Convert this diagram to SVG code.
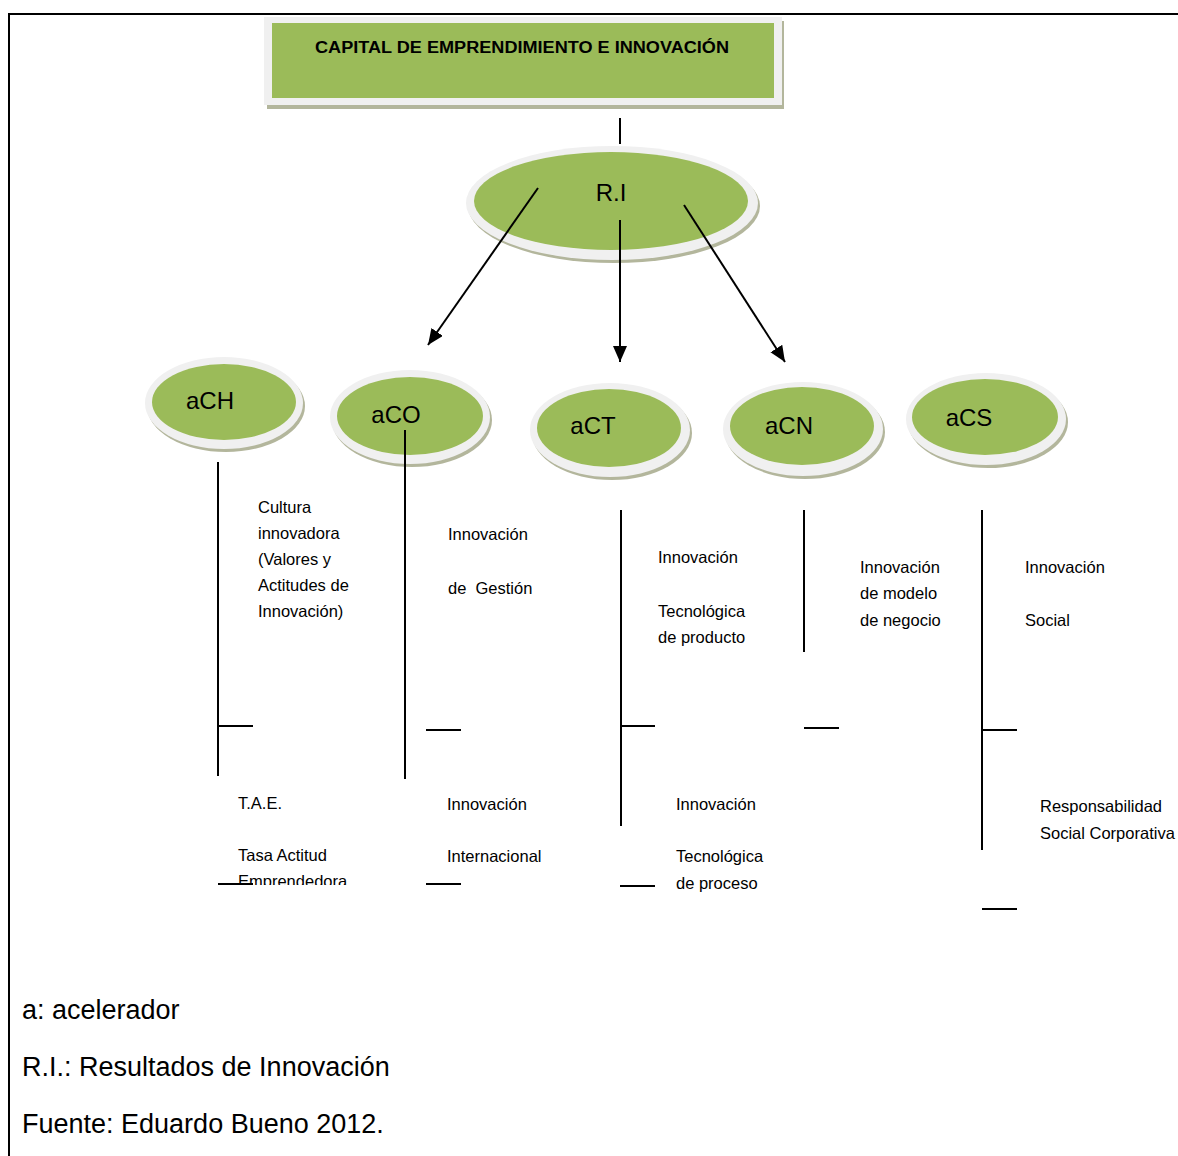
<svg xmlns="http://www.w3.org/2000/svg" width="1178" height="1156" viewBox="0 0 1178 1156">
<style>
.frame{fill:none;stroke:#000;stroke-width:2}
.shadow{fill:#b3b69c}
.rim{fill:#f0f0f0}
.green{fill:#9bbb59}
.ln{stroke:#000;stroke-width:2;fill:none}
.lbl{font-family:"Liberation Sans",Arial,sans-serif;font-size:24px;fill:#000}
.t{font-family:"Liberation Sans",Arial,sans-serif;font-size:16.5px;fill:#000}
.foot{font-family:"Liberation Sans",Arial,sans-serif;font-size:27px;fill:#000}
.title{font-family:"Liberation Sans",Arial,sans-serif;font-size:16px;font-weight:bold;fill:#000}
</style>
<defs>
<marker id="arr" markerUnits="userSpaceOnUse" markerWidth="18" markerHeight="16" refX="16" refY="7" orient="auto">
<path d="M0,0 L16,7 L0,14 Z" fill="#000"/>
</marker>
<clipPath id="clipE"><rect x="200" y="860" width="200" height="25"/></clipPath>
</defs>
<rect width="1178" height="1156" fill="#fff"/>
<path class="frame" d="M9,1156 V14 H1178"/>

<g id="title">
<rect x="267" y="21" width="517" height="88" class="shadow"/>
<rect x="264" y="17" width="518" height="88" class="rim"/>
<rect x="272" y="23" width="502" height="75" class="green"/>
<text x="522" y="53" text-anchor="middle" class="title" textLength="414" lengthAdjust="spacingAndGlyphs">CAPITAL DE EMPRENDIMIENTO E INNOVACIÓN</text>
</g>

<g id="RI">
<ellipse cx="614" cy="206" rx="146" ry="57" class="shadow"/>
<ellipse cx="612" cy="203" rx="146" ry="57" class="rim"/>
<ellipse cx="611" cy="201" rx="137" ry="49" class="green"/>
<text x="611" y="201" text-anchor="middle" class="lbl">R.I</text>
</g>

<g id="aCH">
<ellipse cx="226" cy="406" rx="79" ry="46" class="shadow"/>
<ellipse cx="224" cy="403" rx="79" ry="46" class="rim"/>
<ellipse cx="224" cy="402" rx="72" ry="38" class="green"/>
<text x="210" y="409" text-anchor="middle" class="lbl">aCH</text>
</g>
<g id="aCO">
<ellipse cx="412" cy="420" rx="80" ry="47" class="shadow"/>
<ellipse cx="410" cy="417" rx="80" ry="47" class="rim"/>
<ellipse cx="410" cy="416" rx="73" ry="39" class="green"/>
<text x="396" y="423" text-anchor="middle" class="lbl">aCO</text>
</g>
<g id="aCT">
<ellipse cx="612" cy="433" rx="80" ry="47" class="shadow"/>
<ellipse cx="610" cy="430" rx="80" ry="47" class="rim"/>
<ellipse cx="609" cy="428" rx="72" ry="39" class="green"/>
<text x="593" y="434" text-anchor="middle" class="lbl">aCT</text>
</g>
<g id="aCN">
<ellipse cx="805" cy="432" rx="80" ry="47" class="shadow"/>
<ellipse cx="803" cy="429" rx="80" ry="47" class="rim"/>
<ellipse cx="802" cy="426" rx="72" ry="39" class="green"/>
<text x="789" y="434" text-anchor="middle" class="lbl">aCN</text>
</g>
<g id="aCS">
<ellipse cx="988" cy="422" rx="80" ry="46" class="shadow"/>
<ellipse cx="986" cy="419" rx="80" ry="46" class="rim"/>
<ellipse cx="985" cy="417" rx="73" ry="38" class="green"/>
<text x="969" y="426" text-anchor="middle" class="lbl">aCS</text>
</g>

<g id="connectors">
<line class="ln" x1="620" y1="118" x2="620" y2="144"/>
<line class="ln" x1="538" y1="188" x2="428" y2="345" marker-end="url(#arr)"/>
<line class="ln" x1="620" y1="220" x2="620" y2="362" marker-end="url(#arr)"/>
<line class="ln" x1="684" y1="205" x2="785" y2="362" marker-end="url(#arr)"/>

<line class="ln" x1="218" y1="462" x2="218" y2="776"/>
<line class="ln" x1="218" y1="726" x2="253" y2="726"/>
<line class="ln" x1="218" y1="884" x2="253" y2="884"/>

<line class="ln" x1="405" y1="430" x2="405" y2="779"/>
<line class="ln" x1="426" y1="730" x2="461" y2="730"/>
<line class="ln" x1="426" y1="884" x2="461" y2="884"/>

<line class="ln" x1="621" y1="510" x2="621" y2="826"/>
<line class="ln" x1="621" y1="726" x2="655" y2="726"/>
<line class="ln" x1="620" y1="886" x2="655" y2="886"/>

<line class="ln" x1="804" y1="510" x2="804" y2="652"/>
<line class="ln" x1="804" y1="728" x2="839" y2="728"/>

<line class="ln" x1="982" y1="510" x2="982" y2="850"/>
<line class="ln" x1="982" y1="730" x2="1017" y2="730"/>
<line class="ln" x1="982" y1="909" x2="1017" y2="909"/>
</g>

<g id="labels">
<text class="t" x="258" y="513">Cultura</text>
<text class="t" x="258" y="539">innovadora</text>
<text class="t" x="258" y="565">(Valores y</text>
<text class="t" x="258" y="591">Actitudes de</text>
<text class="t" x="258" y="617">Innovación)</text>

<text class="t" x="448" y="540">Innovación</text>
<text class="t" x="448" y="594" xml:space="preserve">de  Gestión</text>

<text class="t" x="658" y="563">Innovación</text>
<text class="t" x="658" y="617">Tecnológica</text>
<text class="t" x="658" y="643">de producto</text>

<text class="t" x="860" y="573">Innovación</text>
<text class="t" x="860" y="599">de modelo</text>
<text class="t" x="860" y="626">de negocio</text>

<text class="t" x="1025" y="573">Innovación</text>
<text class="t" x="1025" y="626">Social</text>

<text class="t" x="238" y="809">T.A.E.</text>
<text class="t" x="238" y="861">Tasa Actitud</text>
<text class="t" x="238" y="887" clip-path="url(#clipE)">Emprendedora</text>

<text class="t" x="447" y="810">Innovación</text>
<text class="t" x="447" y="862">Internacional</text>

<text class="t" x="676" y="810">Innovación</text>
<text class="t" x="676" y="862">Tecnológica</text>
<text class="t" x="676" y="889">de proceso</text>

<text class="t" x="1040" y="812">Responsabilidad</text>
<text class="t" x="1040" y="839">Social Corporativa</text>
</g>

<g id="legend">
<text class="foot" x="22" y="1019">a: acelerador</text>
<text class="foot" x="22" y="1076">R.I.: Resultados de Innovación</text>
<text class="foot" x="22" y="1133">Fuente: Eduardo Bueno 2012.</text>
</g>
</svg>
